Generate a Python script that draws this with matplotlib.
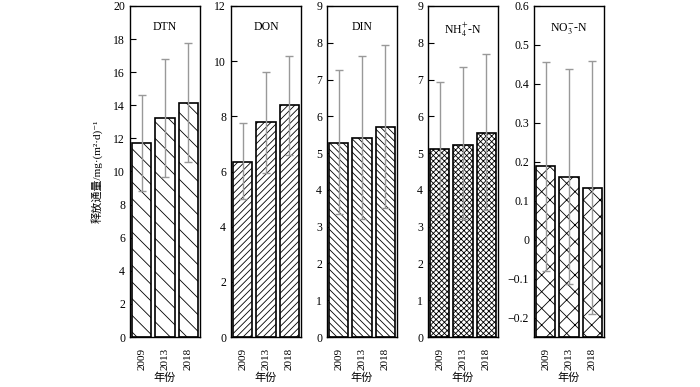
import numpy as np
import matplotlib.pyplot as plt

plt.rcParams['font.family'] = ['Liberation Serif', 'Noto Sans CJK SC', 'DejaVu Sans']
plt.rcParams['hatch.linewidth'] = 0.6
plt.rcParams['mathtext.fontset'] = 'stix'

years = ['2009', '2013', '2018']
names = ['DTN', 'DON', 'DIN', r'NH$_4^{+}$-N', r'NO$_3^{-}$-N']

dtn = [11.7, 13.25, 14.15]
dtn_lo = [8.8, 9.65, 10.55]
dtn_hi = [14.6, 16.8, 17.75]
don = [6.35, 7.8, 8.4]
don_lo = [5.0, 5.95, 6.6]
don_hi = [7.75, 9.6, 10.2]
din = [5.28, 5.4, 5.7]
din_lo = [3.35, 3.2, 3.5]
din_hi = [7.25, 7.63, 7.95]
nh4 = [5.1, 5.23, 5.55]
nh4_lo = [3.35, 3.2, 3.45]
nh4_hi = [6.92, 7.35, 7.7]
no3 = [0.19, 0.162, 0.133]
no3_lo = [-0.08, -0.115, -0.19]
no3_hi = [0.455, 0.437, 0.458]

vals = [dtn, don, din, nh4, no3]
los = [dtn_lo, don_lo, din_lo, nh4_lo, no3_lo]
his = [dtn_hi, don_hi, din_hi, nh4_hi, no3_hi]
ylims = [(0, 20), (0, 12), (0, 9), (0, 9), (-0.25, 0.6)]
yticks = [np.arange(0, 21, 2), np.arange(0, 13, 2), np.arange(0, 10, 1),
          np.arange(0, 10, 1), np.round(np.arange(-0.2, 0.61, 0.1), 1)]
hatches = ['\\\\', '/////', '\\\\\\\\\\', 'xxxxxx', 'xx']
lefts = [130, 231, 327, 428, 534]

W, H = 700, 387
fig = plt.figure(figsize=(7, 3.87), dpi=100)
x = np.arange(3)
for i in range(5):
    ax = fig.add_axes([lefts[i] / W, 1 - 337 / H, 70 / W, 331 / H])
    b0 = ylims[i][0]
    v = np.array(vals[i])
    ax.bar(x, v - b0, bottom=b0, width=0.82, color='white', edgecolor='black',
           linewidth=1.2, hatch=hatches[i], zorder=2)
    lo = v - np.array(los[i])
    hi = np.array(his[i]) - v
    ax.errorbar(x, v, yerr=[lo, hi], fmt='none', ecolor='#999999',
                elinewidth=1, capsize=3, capthick=1, zorder=3)
    ax.set_xlim(-0.5, 2.5)
    ax.set_ylim(*ylims[i])
    ax.set_yticks(yticks[i])
    if i == 4:
        ax.set_yticklabels(['\u22120.2', '\u22120.1', '0', '0.1', '0.2', '0.3', '0.4', '0.5', '0.6'])
    ax.tick_params(axis='y', direction='in', length=4, labelsize=8.5, width=0.8)
    ax.set_xticks(x)
    ax.set_xticklabels(years, rotation=90, fontsize=8)
    ax.tick_params(axis='x', length=0, pad=8)
    for s in ax.spines.values():
        s.set_linewidth(1.0)
    ax.text(0.5, 0.955, names[i], transform=ax.transAxes, ha='center', va='top', fontsize=8.5)
    ax.set_xlabel('年份', fontsize=8, family=['Noto Sans CJK SC'])
    ax.xaxis.set_label_coords(0.5, (337 - 378) / 331)
    ax.xaxis.label.set_va('center')
    if i == 0:
        ax.set_ylabel('释放通量/mg·(m²·d)⁻¹', fontsize=8)
        ax.yaxis.set_label_coords((97 - 130) / 70, 0.5)
        ax.yaxis.label.set_va('center')

fig.savefig('out.png', dpi=100)
